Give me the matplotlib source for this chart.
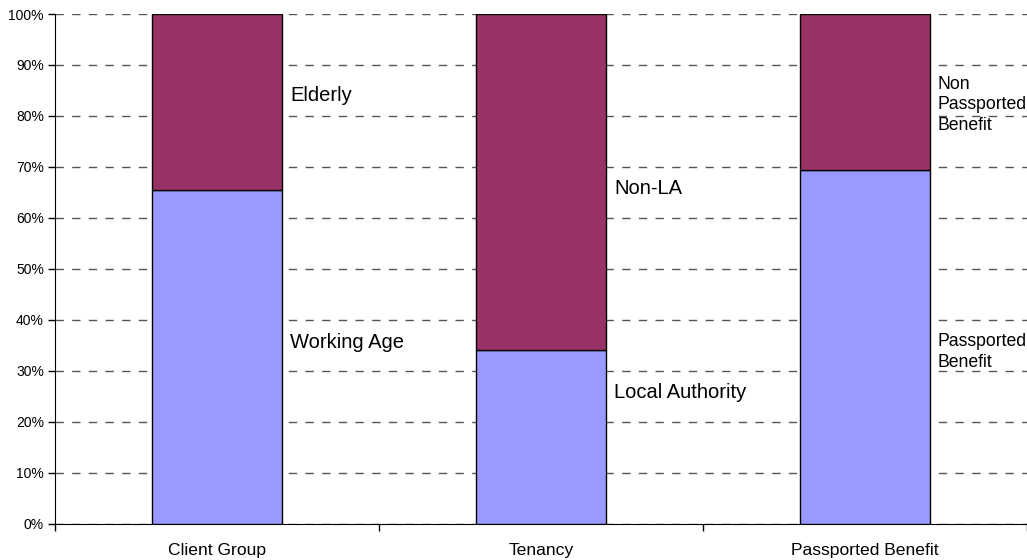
import matplotlib.pyplot as plt
from matplotlib.ticker import PercentFormatter, FixedLocator

plt.rcParams['font.family'] = ['Liberation Sans', 'DejaVu Sans']

# Stacked shares (%) for each grouping.
categories = ['Client Group', 'Tenancy', 'Passported Benefit']
lower_share = [65.4, 34.1, 69.4]
upper_share = [34.6, 65.9, 30.6]

# Segment labels and where they sit (y in %).
lower_labels = ['Working Age', 'Local Authority', 'Passported\nBenefit']
lower_label_y = [35.5, 25.7, 33.7]
upper_labels = ['Elderly', 'Non-LA', 'Non\nPassported\nBenefit']
upper_label_y = [84.1, 65.7, 82.2]
label_sizes = [14.5, 14.5, 12.7]

fig = plt.figure(figsize=(10.27, 5.6), dpi=100)
ax = fig.add_axes([0.0536, 0.0643, 0.9464, 0.9107])

x = list(range(len(categories)))
width = 0.4

ax.bar(x, lower_share, width, color='#9999FF', edgecolor='black', linewidth=1, zorder=3)
ax.bar(x, upper_share, width, bottom=lower_share, color='#993366',
       edgecolor='black', linewidth=1, zorder=3)

for i in x:
    tx = i + width / 2 + 0.025
    ax.text(tx, lower_label_y[i], lower_labels[i], fontsize=label_sizes[i],
            va='center', ha='left', linespacing=1.25)
    ax.text(tx, upper_label_y[i], upper_labels[i], fontsize=label_sizes[i],
            va='center', ha='left', linespacing=1.25)

ax.set_xlim(-0.5, 2.5)
ax.set_ylim(0, 100)
ax.set_yticks(range(0, 101, 10))
ax.yaxis.set_major_formatter(PercentFormatter(decimals=0))

ax.set_xticks(x)
ax.set_xticklabels(categories, fontsize=12.6)
ax.tick_params(axis='x', which='major', length=0, pad=14)
ax.xaxis.set_minor_locator(FixedLocator([-0.5, 0.5, 1.5, 2.5]))
ax.tick_params(axis='x', which='minor', length=5, width=1, direction='out')
ax.tick_params(axis='y', labelsize=10, length=5, width=1, pad=3)

ax.yaxis.grid(True, linestyle=(0, (6, 6)), color='#555555', linewidth=1, zorder=0)
ax.set_axisbelow(True)

ax.spines['top'].set_visible(False)
ax.spines['right'].set_visible(False)

fig.savefig('out.png', dpi=100)
